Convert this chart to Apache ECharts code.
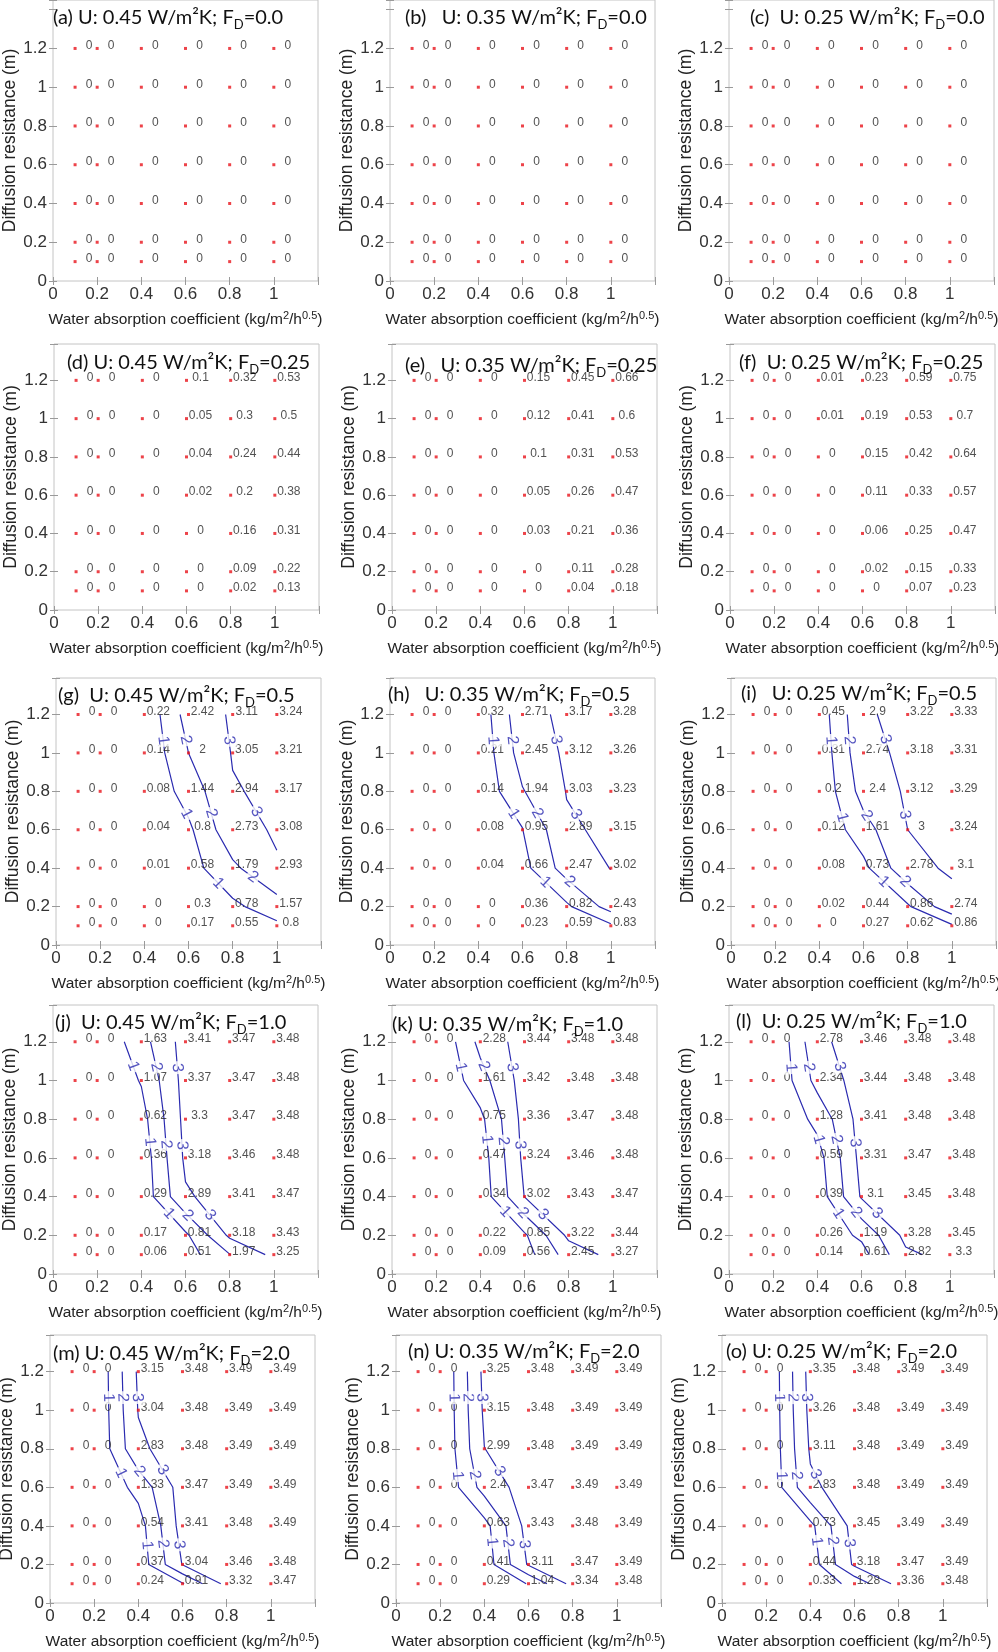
<!DOCTYPE html>
<html><head><meta charset="utf-8">
<script src="https://cdn.jsdelivr.net/npm/echarts/dist/echarts.min.js"></script>
<style>html,body{margin:0;padding:0;background:#fff}#c{width:998px;height:1652px}</style>
</head><body><div id="c"></div>
<script>
// ---------------- DATA ----------------
const xValues = [0.1, 0.2, 0.4, 0.6, 0.8, 1.0];          // water absorption coefficient
const yValues = [1.2, 1.0, 0.8, 0.6, 0.4, 0.2, 0.1];     // diffusion resistance, rows listed top to bottom
const contourLevels = [1, 2, 3];
const xTickLabels = ['0', '0.2', '0.4', '0.6', '0.8', '1'];
const yTickLabels = ['0', '0.2', '0.4', '0.6', '0.8', '1', '1.2'];

const panelA = [[0,0,0,0,0,0],[0,0,0,0,0,0],[0,0,0,0,0,0],[0,0,0,0,0,0],[0,0,0,0,0,0],[0,0,0,0,0,0],[0,0,0,0,0,0]];
const panelB = [[0,0,0,0,0,0],[0,0,0,0,0,0],[0,0,0,0,0,0],[0,0,0,0,0,0],[0,0,0,0,0,0],[0,0,0,0,0,0],[0,0,0,0,0,0]];
const panelC = [[0,0,0,0,0,0],[0,0,0,0,0,0],[0,0,0,0,0,0],[0,0,0,0,0,0],[0,0,0,0,0,0],[0,0,0,0,0,0],[0,0,0,0,0,0]];
const panelD = [[0,0,0,0.1,0.32,0.53],[0,0,0,0.05,0.3,0.5],[0,0,0,0.04,0.24,0.44],[0,0,0,0.02,0.2,0.38],[0,0,0,0,0.16,0.31],[0,0,0,0,0.09,0.22],[0,0,0,0,0.02,0.13]];
const panelE = [[0,0,0,0.15,0.45,0.66],[0,0,0,0.12,0.41,0.6],[0,0,0,0.1,0.31,0.53],[0,0,0,0.05,0.26,0.47],[0,0,0,0.03,0.21,0.36],[0,0,0,0,0.11,0.28],[0,0,0,0,0.04,0.18]];
const panelF = [[0,0,0.01,0.23,0.59,0.75],[0,0,0.01,0.19,0.53,0.7],[0,0,0,0.15,0.42,0.64],[0,0,0,0.11,0.33,0.57],[0,0,0,0.06,0.25,0.47],[0,0,0,0.02,0.15,0.33],[0,0,0,0,0.07,0.23]];
const panelG = [[0,0,0.22,2.42,3.11,3.24],[0,0,0.14,2,3.05,3.21],[0,0,0.08,1.44,2.94,3.17],[0,0,0.04,0.8,2.73,3.08],[0,0,0.01,0.58,1.79,2.93],[0,0,0,0.3,0.78,1.57],[0,0,0,0.17,0.55,0.8]];
const panelH = [[0,0,0.32,2.71,3.17,3.28],[0,0,0.21,2.45,3.12,3.26],[0,0,0.14,1.94,3.03,3.23],[0,0,0.08,0.95,2.89,3.15],[0,0,0.04,0.66,2.47,3.02],[0,0,0,0.36,0.82,2.43],[0,0,0,0.23,0.59,0.83]];
const panelI = [[0,0,0.45,2.9,3.22,3.33],[0,0,0.31,2.74,3.18,3.31],[0,0,0.2,2.4,3.12,3.29],[0,0,0.12,1.61,3,3.24],[0,0,0.08,0.73,2.78,3.1],[0,0,0.02,0.44,0.86,2.74],[0,0,0,0.27,0.62,0.86]];
const panelJ = [[0,0,1.63,3.41,3.47,3.48],[0,0,1.07,3.37,3.47,3.48],[0,0,0.62,3.3,3.47,3.48],[0,0,0.36,3.18,3.46,3.48],[0,0,0.29,2.89,3.41,3.47],[0,0,0.17,0.81,3.18,3.43],[0,0,0.06,0.51,1.97,3.25]];
const panelK = [[0,0,2.28,3.44,3.48,3.48],[0,0,1.61,3.42,3.48,3.48],[0,0,0.75,3.36,3.47,3.48],[0,0,0.47,3.24,3.46,3.48],[0,0,0.34,3.02,3.43,3.47],[0,0,0.22,0.85,3.22,3.44],[0,0,0.09,0.56,2.45,3.27]];
const panelL = [[0,0,2.78,3.46,3.48,3.48],[0,0,2.34,3.44,3.48,3.48],[0,0,1.28,3.41,3.48,3.48],[0,0,0.59,3.31,3.47,3.48],[0,0,0.39,3.1,3.45,3.48],[0,0,0.26,1.19,3.28,3.45],[0,0,0.14,0.61,2.82,3.3]];
const panelM = [[0,0,3.15,3.48,3.49,3.49],[0,0,3.04,3.48,3.49,3.49],[0,0,2.83,3.48,3.49,3.49],[0,0,1.33,3.47,3.49,3.49],[0,0,0.54,3.41,3.48,3.49],[0,0,0.37,3.04,3.46,3.48],[0,0,0.24,0.91,3.32,3.47]];
const panelN = [[0,0,3.25,3.48,3.49,3.49],[0,0,3.15,3.48,3.49,3.49],[0,0,2.99,3.48,3.49,3.49],[0,0,2.4,3.47,3.49,3.49],[0,0,0.63,3.43,3.48,3.49],[0,0,0.41,3.11,3.47,3.49],[0,0,0.29,1.04,3.34,3.48]];
const panelO = [[0,0,3.35,3.48,3.49,3.49],[0,0,3.26,3.48,3.49,3.49],[0,0,3.11,3.48,3.49,3.49],[0,0,2.83,3.48,3.49,3.49],[0,0,0.73,3.45,3.49,3.49],[0,0,0.44,3.18,3.47,3.49],[0,0,0.33,1.28,3.36,3.48]];

const panelTitles = [
  '(a) U: 0.45 W/m²K; F{sub|D}=0.0', '(b)   U: 0.35 W/m²K; F{sub|D}=0.0', '(c)  U: 0.25 W/m²K; F{sub|D}=0.0',
  '(d) U: 0.45 W/m²K; F{sub|D}=0.25', '(e)   U: 0.35 W/m²K; F{sub|D}=0.25', '(f)  U: 0.25 W/m²K; F{sub|D}=0.25',
  '(g)  U: 0.45 W/m²K; F{sub|D}=0.5', '(h)   U: 0.35 W/m²K; F{sub|D}=0.5', '(i)   U: 0.25 W/m²K; F{sub|D}=0.5',
  '(j)  U: 0.45 W/m²K; F{sub|D}=1.0', '(k) U: 0.35 W/m²K; F{sub|D}=1.0', '(l)  U: 0.25 W/m²K; F{sub|D}=1.0',
  '(m) U: 0.45 W/m²K; F{sub|D}=2.0', '(n) U: 0.35 W/m²K; F{sub|D}=2.0', '(o) U: 0.25 W/m²K; F{sub|D}=2.0'
];
const panels = [panelA, panelB, panelC, panelD, panelE, panelF, panelG, panelH, panelI, panelJ, panelK, panelL, panelM, panelN, panelO];

// ---------------- LAYOUT ----------------
const boxLefts = [[53, 390, 729], [54, 392, 730], [56, 390, 731], [53, 392, 729], [50, 396, 722]];
const titleLefts = [[53, 405, 750], [67, 405, 739], [58, 388, 741], [55, 392, 736], [53, 408, 726]];
const titleCenters = [[18, 18, 18], [363, 366, 363], [696, 695, 694], [1023, 1025, 1022], [1354, 1352, 1352]];
const rowTops = [0, 344, 678, 1005, 1335];
const rowBottoms = [281, 610, 945, 1274, 1603];
const rowYMax = [1.45, 1.39, 1.39, 1.39, 1.39];
const boxW = 265, xMax = 1.2;
const lineBlue = '#2b2bb0';

// ---------------- CONTOURING (marching squares on the data grid) ----------------
function buildGrid(rows) {
  const ys = yValues.slice().reverse();
  const z = rows.slice().reverse();
  return {xs: xValues, ys, z};
}
function contour(g, level) {
  const {xs, ys, z} = g, segs = [];
  const ip = (x1, y1, v1, x2, y2, v2) => { const t = (level - v1) / (v2 - v1); return [x1 + t * (x2 - x1), y1 + t * (y2 - y1)]; };
  for (let j = 0; j < ys.length - 1; j++) for (let i = 0; i < xs.length - 1; i++) {
    const c = [[xs[i], ys[j], z[j][i]], [xs[i + 1], ys[j], z[j][i + 1]], [xs[i + 1], ys[j + 1], z[j + 1][i + 1]], [xs[i], ys[j + 1], z[j + 1][i]]];
    const pts = [];
    for (let e = 0; e < 4; e++) {
      const a = c[e], b = c[(e + 1) % 4];
      if ((a[2] >= level) !== (b[2] >= level)) pts.push(ip(a[0], a[1], a[2], b[0], b[1], b[2]));
    }
    if (pts.length === 2) segs.push([pts[0], pts[1]]);
    else if (pts.length === 4) {
      const ctr = (c[0][2] + c[1][2] + c[2][2] + c[3][2]) / 4;
      if ((ctr >= level) === (c[0][2] >= level)) { segs.push([pts[0], pts[1]]); segs.push([pts[2], pts[3]]); }
      else { segs.push([pts[3], pts[0]]); segs.push([pts[1], pts[2]]); }
    }
  }
  const key = p => p[0].toFixed(7) + ',' + p[1].toFixed(7);
  const good = segs.filter(s => Math.hypot(s[0][0] - s[1][0], s[0][1] - s[1][1]) > 1e-9);
  const used = new Array(good.length).fill(false);
  const lines = [];
  for (let s = 0; s < good.length; s++) {
    if (used[s]) continue;
    used[s] = true;
    let poly = [good[s][0], good[s][1]];
    let grow = true;
    while (grow) {
      grow = false;
      for (let t = 0; t < good.length; t++) {
        if (used[t]) continue;
        const a = good[t][0], b = good[t][1];
        const head = key(poly[0]), tail = key(poly[poly.length - 1]);
        if (key(a) === tail) { poly.push(b); used[t] = true; grow = true; }
        else if (key(b) === tail) { poly.push(a); used[t] = true; grow = true; }
        else if (key(a) === head) { poly.unshift(b); used[t] = true; grow = true; }
        else if (key(b) === head) { poly.unshift(a); used[t] = true; grow = true; }
      }
    }
    if (poly[0][1] < poly[poly.length - 1][1]) poly.reverse();
    lines.push(poly);
  }
  return lines;
}
function labelSpots(poly, sx, sy) {
  const P = poly.map(p => [p[0] * sx, -p[1] * sy]);
  const L = []; let total = 0;
  for (let i = 0; i < P.length - 1; i++) { const l = Math.hypot(P[i + 1][0] - P[i][0], P[i + 1][1] - P[i][1]); L.push(l); total += l; }
  const targets = [];
  if (total < 40) targets.push(total / 2);
  else for (let d = 26; d < total - 12; d += 78) targets.push(d);
  const out = [];
  targets.forEach(tg => {
    let acc = 0;
    for (let i = 0; i < L.length; i++) {
      if (acc + L[i] >= tg || i === L.length - 1) {
        const f = L[i] > 0 ? Math.min(1, (tg - acc) / L[i]) : 0;
        const x = P[i][0] + f * (P[i + 1][0] - P[i][0]);
        const y = P[i][1] + f * (P[i + 1][1] - P[i][1]);
        let ang = Math.atan2(-(P[i + 1][1] - P[i][1]), P[i + 1][0] - P[i][0]) * 180 / Math.PI;
        if (ang > 90) ang -= 180; if (ang < -90) ang += 180;
        out.push({x: x / sx, y: -y / sy, rot: Math.round(ang)});
        break;
      }
      acc += L[i];
    }
  });
  return out;
}

// ---------------- OPTION ----------------
const fmt = v => { const r = Math.round(v * 10) / 10; return Math.abs(r - Math.round(r)) < 1e-9 ? String(Math.round(r)) : r.toFixed(1); };
const grids = [], xAxes = [], yAxes = [], series = [], titles = [];
panels.forEach((rows, k) => {
  const row = Math.floor(k / 3), col = k % 3;
  const left = boxLefts[row][col], top = rowTops[row], h = rowBottoms[row] - rowTops[row];
  const yMax = rowYMax[row];
  grids.push({left, top, width: boxW, height: h, show: true, borderColor: '#c4c4c4', borderWidth: 1,
    backgroundColor: 'rgba(0,0,0,0)', containLabel: false, outerBoundsMode: 'none'});
  const tick = {show: true, inside: true, length: 4, lineStyle: {color: '#9a9a9a', width: 1}};
  xAxes.push({type: 'value', gridIndex: k, position: 'bottom', min: 0, max: xMax, interval: 0.2,
    axisLine: {show: false}, axisTick: tick, splitLine: {show: false},
    axisLabel: {fontSize: 17, color: '#333', fontFamily: 'Liberation Sans', margin: 5,
      formatter: v => { const s = fmt(v); return xTickLabels.includes(s) ? s : ''; }},
    name: 'Water absorption coefficient (kg/m{sup|2}/h{sup|0.5})', nameLocation: 'middle', nameGap: 29,
    nameTextStyle: {fontSize: 15.5, color: '#222', fontFamily: 'Liberation Sans', lineHeight: 19,
      rich: {sup: {fontSize: 11, fontFamily: 'Liberation Sans', color: '#222', verticalAlign: 'top', lineHeight: 10}}}});
  xAxes.push({type: 'value', gridIndex: k, position: 'top', min: 0, max: xMax, interval: 0.2,
    axisLine: {show: false}, axisTick: tick, splitLine: {show: false}, axisLabel: {show: false}});
  yAxes.push({type: 'value', gridIndex: k, position: 'left', min: 0, max: yMax, interval: 0.2,
    axisLine: {show: false}, axisTick: tick, splitLine: {show: false},
    axisLabel: {fontSize: 17, color: '#333', fontFamily: 'Liberation Sans', margin: 6,
      formatter: v => { const s = fmt(v); return (v <= 1.25 && yTickLabels.includes(s)) ? s : ''; }},
    name: 'Diffusion resistance (m)', nameLocation: 'middle', nameGap: 26,
    nameTextStyle: {fontSize: 17.5, color: '#222', fontFamily: 'Liberation Sans'}});
  yAxes.push({type: 'value', gridIndex: k, position: 'right', min: 0, max: yMax, interval: 0.2,
    axisLine: {show: false}, axisTick: tick, splitLine: {show: false}, axisLabel: {show: false}});

  titles.push({text: panelTitles[k], left: titleLefts[row][col], top: titleCenters[row][col] - 13, padding: 0,
    textStyle: {fontFamily: 'Lato', fontSize: 20, fontWeight: 'normal', color: '#111', lineHeight: 26,
      rich: {sub: {fontFamily: 'Lato', fontSize: 13, color: '#111', verticalAlign: 'bottom', lineHeight: 12}}}});

  const xi = 2 * k, yi = 2 * k;
  const g = buildGrid(rows);
  const sx = boxW / xMax, sy = h / yMax;
  const labelPts = [];
  contourLevels.forEach(lv => {
    contour(g, lv).forEach(poly => {
      series.push({type: 'line', xAxisIndex: xi, yAxisIndex: yi, data: poly, showSymbol: false, symbol: 'none',
        lineStyle: {color: lineBlue, width: 1.2}, silent: true, animation: false, z: 2});
      labelSpots(poly, sx, sy).forEach(s => labelPts.push({value: [s.x, s.y, lv], label: {rotate: s.rot}}));
    });
  });
  const pts = [];
  rows.forEach((r, j) => r.forEach((v, i) => pts.push([xValues[i], yValues[j], v])));
  series.push({type: 'scatter', xAxisIndex: xi, yAxisIndex: yi, data: pts, symbol: 'rect', symbolSize: 3,
    itemStyle: {color: '#e8141b'}, silent: true, animation: false, z: 3,
    label: {show: true, position: 'inside', offset: [14, -3], align: 'center', verticalAlign: 'middle',
      fontSize: 12, color: '#262626', fontFamily: 'Liberation Sans', formatter: p => String(p.value[2])}});
  if (labelPts.length) series.push({type: 'scatter', xAxisIndex: xi, yAxisIndex: yi, data: labelPts, symbol: 'circle', symbolSize: 2,
    itemStyle: {color: 'rgba(255,255,255,0)'}, silent: true, animation: false, z: 4,
    label: {show: true, position: 'inside', align: 'center', verticalAlign: 'middle', fontSize: 16,
      fontFamily: 'Liberation Sans', color: lineBlue, backgroundColor: '#fff', padding: [0, 2],
      formatter: p => String(p.value[2])}});
});

const chart = echarts.init(document.getElementById('c'), null, {renderer: 'canvas', width: 998, height: 1652});
chart.setOption({animation: false, backgroundColor: '#fff', title: titles, grid: grids, xAxis: xAxes, yAxis: yAxes, series});
</script></body></html>
